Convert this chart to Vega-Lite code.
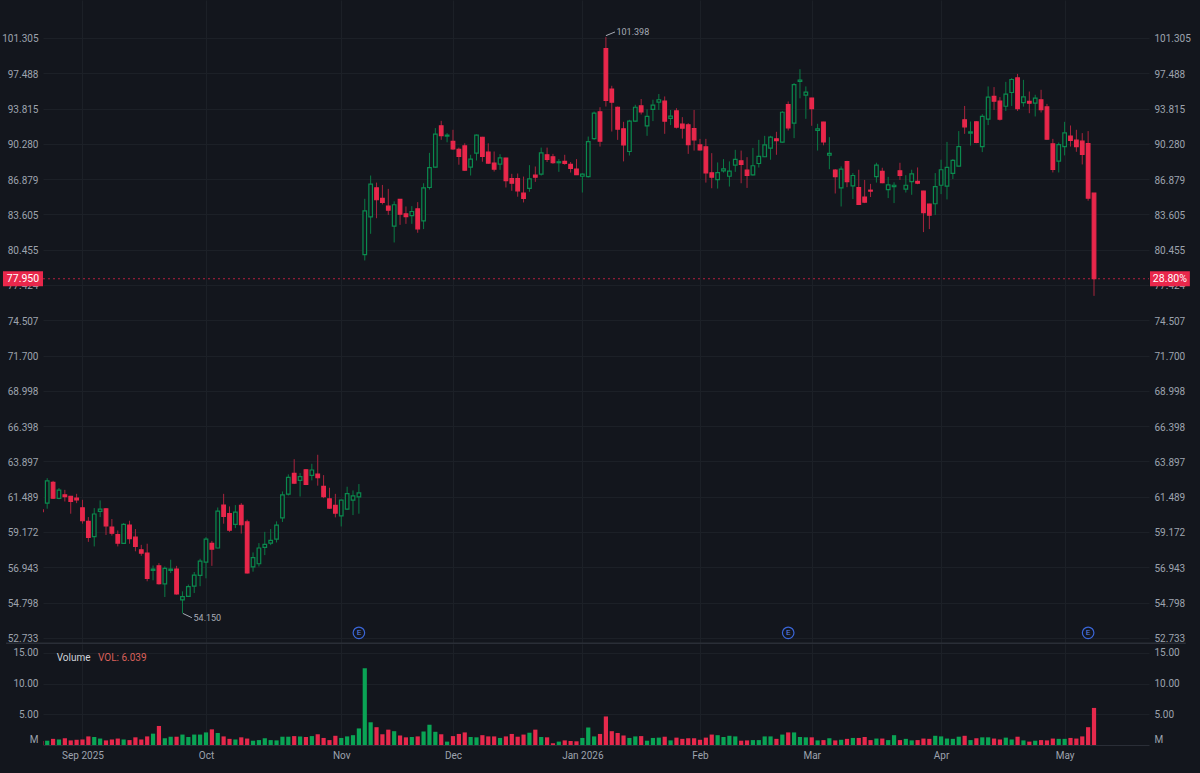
{
  "$schema": "https://vega.github.io/schema/vega-lite/v6.json",
  "background": "#13161d",
  "padding": 0,
  "spacing": 0,
  "bounds": "flush",
  "config": {"font": "Roboto", "view": {"stroke": null}},
  "datasets": {
    "bars": [
      {"n":-1,"o":60.62,"h":60.7,"l":60.4,"c":60.49,"v":0.65},
      {"n":0,"o":61.06,"h":62.74,"l":60.69,"c":62.56,"v":0.7},
      {"n":1,"o":62.45,"h":62.56,"l":61.34,"c":61.39,"v":1.0},
      {"n":2,"o":61.37,"h":62.07,"l":61.32,"c":61.93,"v":0.9},
      {"n":3,"o":61.61,"h":61.95,"l":61.17,"c":61.5,"v":1.1},
      {"n":4,"o":61.52,"h":61.54,"l":60.36,"c":61.17,"v":0.75},
      {"n":5,"o":61.39,"h":61.68,"l":61.06,"c":61.28,"v":0.85},
      {"n":6,"o":60.75,"h":61.28,"l":59.71,"c":59.9,"v":0.9},
      {"n":7,"o":59.86,"h":60.14,"l":58.54,"c":58.82,"v":1.4},
      {"n":8,"o":58.88,"h":60.73,"l":58.25,"c":60.34,"v":1.3},
      {"n":9,"o":60.51,"h":61.24,"l":60.14,"c":60.66,"v":1.05},
      {"n":10,"o":60.68,"h":60.73,"l":58.98,"c":59.57,"v":0.75},
      {"n":11,"o":59.49,"h":60.01,"l":58.94,"c":59.09,"v":0.9},
      {"n":12,"o":59.01,"h":59.27,"l":58.25,"c":58.46,"v":1.05},
      {"n":13,"o":58.44,"h":59.75,"l":58.42,"c":59.66,"v":0.9},
      {"n":14,"o":59.62,"h":59.9,"l":58.42,"c":58.75,"v":0.8},
      {"n":15,"o":58.84,"h":59.36,"l":57.94,"c":58.25,"v":1.25},
      {"n":16,"o":58.04,"h":58.35,"l":57.66,"c":57.83,"v":0.9},
      {"n":17,"o":57.83,"h":58.42,"l":56.08,"c":56.26,"v":1.4},
      {"n":18,"o":56.75,"h":57.05,"l":56.14,"c":56.83,"v":1.85},
      {"n":19,"o":57.03,"h":57.2,"l":55.88,"c":55.94,"v":3.1},
      {"n":20,"o":55.92,"h":56.99,"l":55.13,"c":56.87,"v":1.1},
      {"n":21,"o":56.75,"h":57.41,"l":56.59,"c":56.83,"v":1.35},
      {"n":22,"o":56.83,"h":57.03,"l":55.27,"c":55.31,"v":1.35},
      {"n":23,"o":54.96,"h":55.47,"l":54.15,"c":55.15,"v":1.7},
      {"n":24,"o":55.17,"h":55.88,"l":55.13,"c":55.76,"v":1.3},
      {"n":25,"o":55.78,"h":56.65,"l":55.37,"c":56.46,"v":1.7},
      {"n":26,"o":56.44,"h":57.47,"l":55.78,"c":57.33,"v":1.7},
      {"n":27,"o":57.26,"h":58.84,"l":56.26,"c":58.71,"v":2.05},
      {"n":28,"o":58.44,"h":58.6,"l":57.03,"c":58.08,"v":2.55},
      {"n":29,"o":58.15,"h":60.77,"l":58.13,"c":60.53,"v":1.95},
      {"n":30,"o":60.93,"h":61.68,"l":59.71,"c":60.18,"v":1.4},
      {"n":31,"o":60.36,"h":60.84,"l":59.18,"c":59.29,"v":1.0},
      {"n":32,"o":59.66,"h":60.93,"l":59.42,"c":60.47,"v":0.9},
      {"n":33,"o":60.91,"h":61.06,"l":59.07,"c":59.64,"v":1.25},
      {"n":34,"o":59.82,"h":59.97,"l":56.55,"c":56.59,"v":1.05},
      {"n":35,"o":56.97,"h":57.87,"l":56.67,"c":57.54,"v":0.7},
      {"n":36,"o":57.16,"h":58.46,"l":56.99,"c":58.15,"v":0.8},
      {"n":37,"o":58.19,"h":59.18,"l":57.7,"c":58.38,"v":1.1},
      {"n":38,"o":58.46,"h":59.36,"l":58.33,"c":58.63,"v":0.8},
      {"n":39,"o":58.71,"h":59.86,"l":58.5,"c":59.62,"v":0.75},
      {"n":40,"o":60.09,"h":61.84,"l":59.82,"c":61.61,"v":1.35},
      {"n":41,"o":61.66,"h":63.0,"l":61.57,"c":62.79,"v":1.35},
      {"n":42,"o":63.07,"h":64.05,"l":62.34,"c":62.41,"v":1.45},
      {"n":43,"o":62.59,"h":63.09,"l":61.5,"c":62.84,"v":1.4},
      {"n":44,"o":63.32,"h":63.36,"l":62.27,"c":62.32,"v":1.3},
      {"n":45,"o":62.93,"h":63.73,"l":62.59,"c":63.3,"v":1.45},
      {"n":46,"o":63.02,"h":64.36,"l":62.23,"c":62.77,"v":1.75},
      {"n":47,"o":62.18,"h":62.95,"l":61.39,"c":61.5,"v":1.15},
      {"n":48,"o":61.34,"h":62.09,"l":60.68,"c":60.73,"v":0.8},
      {"n":49,"o":60.91,"h":61.68,"l":60.12,"c":60.4,"v":1.5},
      {"n":50,"o":60.22,"h":61.3,"l":59.53,"c":61.26,"v":1.15},
      {"n":51,"o":60.66,"h":62.16,"l":60.62,"c":61.7,"v":1.4},
      {"n":52,"o":61.26,"h":61.91,"l":60.27,"c":61.54,"v":1.6},
      {"n":53,"o":61.48,"h":62.34,"l":60.36,"c":61.75,"v":2.7},
      {"n":54,"o":80.03,"h":85.04,"l":79.52,"c":83.93,"v":12.5},
      {"n":55,"o":83.38,"h":87.22,"l":81.86,"c":86.4,"v":3.7},
      {"n":56,"o":86.06,"h":86.55,"l":83.26,"c":84.95,"v":2.9},
      {"n":57,"o":85.07,"h":86.33,"l":84.52,"c":84.7,"v":1.75},
      {"n":58,"o":84.36,"h":85.96,"l":83.56,"c":83.99,"v":2.5},
      {"n":59,"o":82.54,"h":84.8,"l":81.09,"c":84.49,"v":2.25},
      {"n":60,"o":84.98,"h":85.01,"l":82.66,"c":83.62,"v":1.55},
      {"n":61,"o":83.65,"h":84.33,"l":82.75,"c":83.41,"v":1.25},
      {"n":62,"o":83.5,"h":84.36,"l":82.75,"c":83.87,"v":1.3},
      {"n":63,"o":84.11,"h":84.73,"l":81.95,"c":82.3,"v":1.4},
      {"n":64,"o":83.02,"h":86.49,"l":82.28,"c":86.06,"v":2.2},
      {"n":65,"o":86.09,"h":89.4,"l":85.9,"c":87.98,"v":3.3},
      {"n":66,"o":88.02,"h":91.84,"l":87.95,"c":91.24,"v":2.15},
      {"n":67,"o":92.07,"h":92.57,"l":90.67,"c":91.1,"v":1.75},
      {"n":68,"o":91.04,"h":91.34,"l":90.43,"c":91.14,"v":0.55},
      {"n":69,"o":90.53,"h":91.67,"l":89.69,"c":89.79,"v":1.45},
      {"n":70,"o":89.75,"h":89.91,"l":88.25,"c":89.05,"v":1.8},
      {"n":71,"o":90.07,"h":90.33,"l":87.66,"c":87.73,"v":2.05},
      {"n":72,"o":88.02,"h":89.21,"l":87.22,"c":88.79,"v":1.3},
      {"n":73,"o":89.37,"h":91.2,"l":88.66,"c":91.14,"v":1.25},
      {"n":74,"o":90.93,"h":90.97,"l":88.54,"c":89.05,"v":1.6},
      {"n":75,"o":89.47,"h":90.33,"l":88.34,"c":88.41,"v":1.4},
      {"n":76,"o":88.41,"h":89.53,"l":87.6,"c":87.83,"v":1.4},
      {"n":77,"o":88.31,"h":89.27,"l":87.76,"c":88.92,"v":1.15},
      {"n":78,"o":88.89,"h":88.92,"l":86.09,"c":86.74,"v":1.4},
      {"n":79,"o":86.93,"h":87.38,"l":85.78,"c":86.49,"v":1.8},
      {"n":80,"o":86.93,"h":87.41,"l":85.23,"c":85.78,"v":1.35},
      {"n":81,"o":85.56,"h":87.12,"l":84.7,"c":85.07,"v":1.7},
      {"n":82,"o":86.0,"h":88.21,"l":85.69,"c":86.9,"v":2.0},
      {"n":83,"o":87.25,"h":88.08,"l":86.62,"c":87.06,"v":2.5},
      {"n":84,"o":87.35,"h":89.91,"l":87.22,"c":89.4,"v":1.3},
      {"n":85,"o":89.21,"h":89.91,"l":88.51,"c":88.76,"v":1.25},
      {"n":86,"o":89.02,"h":89.3,"l":88.34,"c":88.44,"v":0.3},
      {"n":87,"o":88.44,"h":88.79,"l":87.57,"c":88.54,"v":0.55},
      {"n":88,"o":88.57,"h":89.21,"l":88.25,"c":88.38,"v":0.75},
      {"n":89,"o":88.28,"h":88.51,"l":87.5,"c":87.89,"v":0.65},
      {"n":90,"o":87.83,"h":88.79,"l":87.28,"c":87.31,"v":0.6},
      {"n":91,"o":87.15,"h":87.44,"l":85.62,"c":87.35,"v":1.15},
      {"n":92,"o":87.12,"h":91.0,"l":87.03,"c":90.5,"v":2.85},
      {"n":93,"o":90.8,"h":93.51,"l":90.67,"c":93.34,"v":1.4},
      {"n":94,"o":93.47,"h":93.95,"l":90.01,"c":90.54,"v":1.8},
      {"n":95,"o":100.15,"h":101.4,"l":94.02,"c":94.65,"v":4.65},
      {"n":96,"o":95.83,"h":96.17,"l":91.5,"c":94.47,"v":2.25},
      {"n":97,"o":93.95,"h":94.02,"l":90.67,"c":91.73,"v":1.95},
      {"n":98,"o":91.77,"h":92.47,"l":88.57,"c":90.17,"v":1.55},
      {"n":99,"o":89.53,"h":92.67,"l":89.14,"c":92.54,"v":1.15},
      {"n":100,"o":92.54,"h":94.2,"l":92.47,"c":93.95,"v":1.4},
      {"n":101,"o":94.09,"h":94.79,"l":93.21,"c":93.47,"v":1.45},
      {"n":102,"o":92.07,"h":93.74,"l":91.07,"c":93.01,"v":0.7},
      {"n":103,"o":93.74,"h":94.72,"l":92.54,"c":94.16,"v":1.15},
      {"n":104,"o":94.47,"h":95.31,"l":93.67,"c":94.72,"v":1.2},
      {"n":105,"o":94.58,"h":95.06,"l":91.27,"c":92.54,"v":1.35},
      {"n":106,"o":92.81,"h":93.67,"l":92.14,"c":93.04,"v":0.75},
      {"n":107,"o":93.57,"h":93.85,"l":91.8,"c":91.94,"v":1.2},
      {"n":108,"o":92.24,"h":92.94,"l":90.8,"c":91.84,"v":1.0},
      {"n":109,"o":92.17,"h":92.34,"l":89.3,"c":90.21,"v":1.1},
      {"n":110,"o":91.8,"h":93.67,"l":89.62,"c":90.67,"v":1.1},
      {"n":111,"o":90.17,"h":90.77,"l":89.62,"c":89.69,"v":0.85},
      {"n":112,"o":89.98,"h":90.77,"l":86.55,"c":87.47,"v":1.2},
      {"n":113,"o":87.47,"h":89.37,"l":86.02,"c":87.06,"v":1.7},
      {"n":114,"o":86.83,"h":88.47,"l":85.99,"c":87.5,"v":1.6},
      {"n":115,"o":87.66,"h":88.79,"l":87.5,"c":87.86,"v":1.3},
      {"n":116,"o":87.15,"h":88.57,"l":86.18,"c":87.63,"v":1.5},
      {"n":117,"o":88.21,"h":89.69,"l":87.57,"c":88.76,"v":1.4},
      {"n":118,"o":88.63,"h":89.62,"l":86.49,"c":88.28,"v":0.7},
      {"n":119,"o":87.73,"h":88.98,"l":86.05,"c":87.22,"v":0.75},
      {"n":120,"o":87.28,"h":89.88,"l":87.22,"c":88.15,"v":0.8},
      {"n":121,"o":88.37,"h":90.67,"l":87.98,"c":89.05,"v":0.8},
      {"n":122,"o":89.02,"h":91.07,"l":88.98,"c":90.17,"v":1.4},
      {"n":123,"o":89.85,"h":91.07,"l":88.73,"c":90.94,"v":1.4},
      {"n":124,"o":90.77,"h":91.47,"l":89.21,"c":90.6,"v":1.0},
      {"n":125,"o":90.44,"h":93.57,"l":90.37,"c":93.44,"v":1.7},
      {"n":126,"o":94.23,"h":94.54,"l":91.6,"c":91.87,"v":2.05},
      {"n":127,"o":92.34,"h":96.45,"l":90.84,"c":96.28,"v":2.05},
      {"n":128,"o":96.62,"h":97.92,"l":94.86,"c":96.76,"v":1.3},
      {"n":129,"o":95.2,"h":96.1,"l":92.77,"c":95.51,"v":1.25},
      {"n":130,"o":94.89,"h":94.92,"l":92.07,"c":93.81,"v":1.25},
      {"n":131,"o":91.6,"h":92.27,"l":89.62,"c":91.77,"v":0.75},
      {"n":132,"o":92.44,"h":92.47,"l":90.14,"c":90.47,"v":0.8},
      {"n":133,"o":89.18,"h":90.94,"l":87.82,"c":89.34,"v":1.1},
      {"n":134,"o":87.74,"h":87.83,"l":85.53,"c":87.12,"v":0.75},
      {"n":135,"o":86.06,"h":88.09,"l":84.33,"c":87.83,"v":0.85},
      {"n":136,"o":88.54,"h":88.63,"l":86.12,"c":86.64,"v":1.0},
      {"n":137,"o":86.24,"h":87.45,"l":85.01,"c":87.22,"v":1.15},
      {"n":138,"o":86.09,"h":87.77,"l":84.49,"c":84.52,"v":1.15},
      {"n":139,"o":85.2,"h":86.8,"l":84.64,"c":84.73,"v":1.3},
      {"n":140,"o":85.84,"h":86.43,"l":85.2,"c":85.75,"v":0.8},
      {"n":141,"o":87.12,"h":88.44,"l":86.55,"c":88.22,"v":1.05},
      {"n":142,"o":87.61,"h":87.96,"l":86.49,"c":86.55,"v":1.05},
      {"n":143,"o":85.9,"h":87.09,"l":85.1,"c":86.33,"v":0.8},
      {"n":144,"o":86.18,"h":86.58,"l":84.64,"c":86.3,"v":1.6},
      {"n":145,"o":87.67,"h":88.44,"l":86.8,"c":87.22,"v":0.8},
      {"n":146,"o":85.93,"h":87.25,"l":85.62,"c":86.3,"v":1.0},
      {"n":147,"o":86.64,"h":87.77,"l":85.41,"c":87.38,"v":0.75},
      {"n":148,"o":86.67,"h":87.99,"l":86.4,"c":86.49,"v":0.8},
      {"n":149,"o":85.75,"h":85.78,"l":82.01,"c":83.77,"v":1.05},
      {"n":150,"o":84.55,"h":84.58,"l":82.28,"c":83.53,"v":1.0},
      {"n":151,"o":84.58,"h":87.45,"l":83.56,"c":86.18,"v":1.5},
      {"n":152,"o":86.3,"h":88.73,"l":85.47,"c":87.77,"v":1.4},
      {"n":153,"o":86.21,"h":90.47,"l":84.98,"c":87.99,"v":1.05},
      {"n":154,"o":87.42,"h":88.79,"l":86.89,"c":88.67,"v":1.0},
      {"n":155,"o":88.12,"h":91.54,"l":88.09,"c":90.01,"v":1.35},
      {"n":156,"o":92.67,"h":94.08,"l":91.27,"c":91.97,"v":1.5},
      {"n":157,"o":91.34,"h":92.5,"l":90.11,"c":91.47,"v":0.8},
      {"n":158,"o":92.47,"h":92.54,"l":90.34,"c":90.41,"v":1.1},
      {"n":159,"o":90.01,"h":93.24,"l":89.47,"c":93.01,"v":1.25},
      {"n":160,"o":92.74,"h":96.1,"l":92.14,"c":94.99,"v":1.25},
      {"n":161,"o":95.06,"h":96.03,"l":93.67,"c":94.57,"v":1.05},
      {"n":162,"o":94.57,"h":94.99,"l":92.6,"c":92.74,"v":0.9},
      {"n":163,"o":94.05,"h":96.58,"l":93.57,"c":95.3,"v":1.2},
      {"n":164,"o":95.47,"h":96.97,"l":94.08,"c":96.83,"v":0.9},
      {"n":165,"o":97.0,"h":97.42,"l":93.57,"c":93.81,"v":1.35},
      {"n":166,"o":94.43,"h":96.79,"l":94.01,"c":95.02,"v":0.75},
      {"n":167,"o":94.54,"h":95.57,"l":93.34,"c":94.36,"v":0.55},
      {"n":168,"o":94.36,"h":95.23,"l":93.01,"c":94.88,"v":0.7},
      {"n":169,"o":94.71,"h":95.75,"l":93.41,"c":93.71,"v":0.8},
      {"n":170,"o":93.98,"h":94.29,"l":90.67,"c":90.74,"v":0.75},
      {"n":171,"o":90.27,"h":90.77,"l":87.51,"c":87.8,"v":1.05},
      {"n":172,"o":88.6,"h":90.41,"l":87.51,"c":90.21,"v":1.0},
      {"n":173,"o":90.01,"h":92.47,"l":89.15,"c":91.37,"v":1.0},
      {"n":174,"o":91.04,"h":92.1,"l":90.01,"c":90.61,"v":1.15},
      {"n":175,"o":90.64,"h":91.67,"l":89.5,"c":90.01,"v":1.05},
      {"n":176,"o":90.54,"h":91.34,"l":88.28,"c":89.24,"v":1.4},
      {"n":177,"o":90.31,"h":91.54,"l":84.86,"c":85.1,"v":2.9},
      {"n":178,"o":85.56,"h":85.56,"l":76.51,"c":77.95,"v":6.04}
    ]
  },
  "vconcat": [
    {
      "width": 1106,
      "height": 644,
      "data": {"name": "bars"},
      "encoding": {
        "x": {
          "field": "n",
          "type": "quantitative",
          "title": null,
          "scale": {"domain": [-0.714, 187.35], "nice": false, "zero": false, "padding": 0},
          "axis": {
            "values": [6, 27, 50, 69, 91, 111, 130, 152, 173],
            "labels": false,
            "ticks": false,
            "domain": false,
            "grid": true,
            "gridColor": "#1c2027",
            "title": null
          }
        }
      },
      "layer": [
        {
          "mark": {"type": "rule", "strokeWidth": 1, "clip": true},
          "encoding": {
            "y": {
              "field": "h",
              "type": "quantitative",
              "title": null,
              "scale": {"type": "log", "domain": [52.38, 105.58], "nice": false},
              "axis": {
                "orient": "left",
                "values": [101.305, 97.488, 93.815, 90.28, 86.879, 83.605, 80.455, 77.424, 74.507, 71.7, 68.998, 66.398, 63.897, 61.489, 59.172, 56.943, 54.798, 52.733],
                "format": ".3f",
                "grid": true,
                "gridColor": "#1c2027",
                "ticks": false,
                "domain": false,
                "labelColor": "#9da3ae",
                "labelFontSize": 10,
                "labelPadding": 5,
                "labelOffset": 1,
                "minExtent": 43,
                "maxExtent": 43,
                "title": null
              }
            },
            "y2": {"field": "l"},
            "color": {"condition": {"test": "datum.c >= datum.o", "value": "#0a7a45"}, "value": "#a8243d"}
          }
        },
        {
          "mark": {"type": "bar", "size": 3.6, "strokeWidth": 1.2, "clip": true},
          "encoding": {
            "y": {
              "field": "o",
              "type": "quantitative",
              "title": null,
              "axis": {
                "orient": "right",
                "values": [101.305, 97.488, 93.815, 90.28, 86.879, 83.605, 80.455, 77.424, 74.507, 71.7, 68.998, 66.398, 63.897, 61.489, 59.172, 56.943, 54.798, 52.733],
                "format": ".3f",
                "grid": false,
                "ticks": false,
                "domain": false,
                "labelColor": "#9da3ae",
                "labelFontSize": 10,
                "labelPadding": 5,
                "labelOffset": 1,
                "minExtent": 51,
                "maxExtent": 51,
                "title": null
              }
            },
            "y2": {"field": "c"},
            "fill": {"condition": {"test": "datum.c >= datum.o", "value": "#13161d"}, "value": "#e9274b"},
            "stroke": {"condition": {"test": "datum.c >= datum.o", "value": "#0a8a4e"}, "value": "#e9274b"}
          }
        },
        {
          "data": {"values": [{"n": -7, "n2": 193.6, "p": 52.42}]},
          "mark": {"type": "rule", "color": "#2a2e37", "strokeWidth": 1.5, "clip": false},
          "encoding": {
            "x2": {"field": "n2"},
            "y": {"field": "p", "type": "quantitative", "axis": null}
          }
        },
        {
          "data": {"values": [{"n": -0.714, "n2": 187.35, "p": 77.95}]},
          "mark": {"type": "rule", "color": "#e9274b", "opacity": 0.75, "strokeWidth": 1, "strokeDash": [2, 3], "clip": false},
          "encoding": {
            "x2": {"field": "n2"},
            "y": {"field": "p", "type": "quantitative", "axis": null}
          }
        },
        {
          "data": {"values": [{"n": -7.52, "n2": -0.714, "top": 78.59, "bottom": 77.31}, {"n": 187.52, "n2": 194.3, "top": 78.59, "bottom": 77.31}]},
          "mark": {"type": "rect", "color": "#e9274b", "clip": false},
          "encoding": {
            "x2": {"field": "n2"},
            "y": {"field": "top", "type": "quantitative", "axis": null},
            "y2": {"field": "bottom"}
          }
        },
        {
          "data": {"values": [{"n": -4.115, "p": 77.95, "label": "77.950"}, {"n": 190.9, "p": 77.95, "label": "28.80%"}]},
          "mark": {"type": "text", "color": "#ffffff", "fontSize": 10.5, "align": "center", "baseline": "middle", "clip": false},
          "encoding": {
            "y": {"field": "p", "type": "quantitative", "axis": null},
            "text": {"field": "label"}
          }
        },
        {
          "data": {"values": [{"n": 95, "n2": 96.55, "p": 101.56, "p2": 101.97}, {"n": 23.09, "n2": 24.6, "p": 54.15, "p2": 53.9}]},
          "mark": {"type": "rule", "color": "#a7acb6", "strokeWidth": 1},
          "encoding": {
            "x2": {"field": "n2"},
            "y": {"field": "p", "type": "quantitative", "axis": null},
            "y2": {"field": "p2"}
          }
        },
        {
          "data": {"values": [{"n": 96.8, "p": 101.97, "label": "101.398"}, {"n": 24.88, "p": 53.86, "label": "54.150"}]},
          "mark": {"type": "text", "color": "#a7acb6", "fontSize": 9, "align": "left", "baseline": "middle"},
          "encoding": {
            "y": {"field": "p", "type": "quantitative", "axis": null},
            "text": {"field": "label"}
          }
        },
        {
          "data": {"values": [{"n": 53, "p": 53.02}, {"n": 126, "p": 53.02}, {"n": 177, "p": 53.02}]},
          "mark": {"type": "point", "shape": "circle", "filled": false, "size": 133, "color": "#3a66d8", "strokeWidth": 1.2, "opacity": 1},
          "encoding": {
            "y": {"field": "p", "type": "quantitative", "axis": null}
          }
        },
        {
          "data": {"values": [{"n": 53, "p": 53.02, "label": "E"}, {"n": 126, "p": 53.02, "label": "E"}, {"n": 177, "p": 53.02, "label": "E"}]},
          "mark": {"type": "text", "color": "#5b84ea", "fontSize": 8, "align": "center", "baseline": "middle"},
          "encoding": {
            "y": {"field": "p", "type": "quantitative", "axis": null},
            "text": {"field": "label"}
          }
        }
      ],
      "resolve": {"axis": {"y": "independent"}}
    },
    {
      "width": 1106,
      "height": 101,
      "data": {"name": "bars"},
      "encoding": {
        "x": {
          "field": "n",
          "type": "quantitative",
          "title": null,
          "scale": {"domain": [-0.714, 187.35], "nice": false, "zero": false, "padding": 0},
          "axis": {
            "values": [6, 27, 50, 69, 91, 111, 130, 152, 173],
            "labelExpr": "['Sep 2025','Oct','Nov','Dec','Jan 2026','Feb','Mar','Apr','May'][indexof([6,27,50,69,91,111,130,152,173],datum.value)]",
            "labelColor": "#9da3ae",
            "labelFontSize": 10,
            "labelPadding": 5,
            "labelOverlap": false,
            "labelFlush": false,
            "minExtent": 28,
            "maxExtent": 28,
            "ticks": false,
            "domain": true,
            "domainColor": "#2a2e37",
            "grid": true,
            "gridColor": "#1c2027",
            "title": null
          }
        }
      },
      "layer": [
        {
          "mark": {"type": "bar", "size": 4.2, "clip": true},
          "encoding": {
            "y": {
              "field": "v",
              "type": "quantitative",
              "title": null,
              "scale": {"domain": [0, 16.45], "nice": false},
              "axis": {
                "orient": "left",
                "values": [15, 10, 5, 0.85],
                "labelExpr": "datum.value < 1 ? 'M' : format(datum.value, '.2f')",
                "grid": true,
                "gridColor": "#1c2027",
                "gridOpacity": {"condition": {"test": "datum.value < 1", "value": 0}, "value": 1},
                "ticks": false,
                "domain": false,
                "labelColor": "#9da3ae",
                "labelFontSize": 10,
                "labelPadding": 5,
                "minExtent": 43,
                "maxExtent": 43,
                "title": null
              }
            },
            "color": {"condition": {"test": "datum.c >= datum.o", "value": "#0aa455"}, "value": "#e6294c"}
          }
        },
        {
          "mark": {"type": "bar", "size": 4.2, "clip": true, "opacity": 0},
          "encoding": {
            "y": {
              "field": "v",
              "type": "quantitative",
              "title": null,
              "axis": {
                "orient": "right",
                "values": [15, 10, 5, 0.85],
                "labelExpr": "datum.value < 1 ? 'M' : format(datum.value, '.2f')",
                "grid": false,
                "ticks": false,
                "domain": false,
                "labelColor": "#9da3ae",
                "labelFontSize": 10,
                "labelPadding": 5,
                "minExtent": 51,
                "maxExtent": 51,
                "title": null
              }
            }
          }
        },
        {
          "data": {"values": [{"n": 1.62, "v": 14.12, "label": "Volume"}]},
          "mark": {"type": "text", "color": "#d0d3da", "fontSize": 10, "align": "left", "baseline": "middle"},
          "encoding": {
            "y": {"field": "v", "type": "quantitative", "axis": null},
            "text": {"field": "label"}
          }
        },
        {
          "data": {"values": [{"n": 8.64, "v": 14.12, "label": "VOL: 6.039"}]},
          "mark": {"type": "text", "color": "#d9605a", "fontSize": 10, "align": "left", "baseline": "middle"},
          "encoding": {
            "y": {"field": "v", "type": "quantitative", "axis": null},
            "text": {"field": "label"}
          }
        }
      ],
      "resolve": {"axis": {"y": "independent"}}
    }
  ]
}
